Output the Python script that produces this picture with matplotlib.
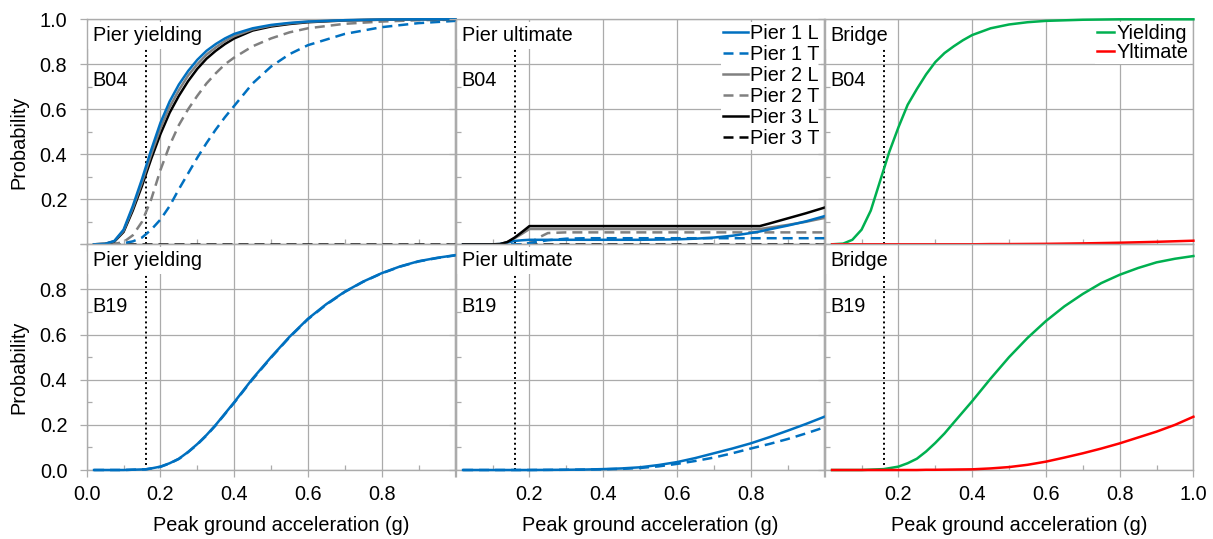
import matplotlib
matplotlib.use('Agg')
import matplotlib.pyplot as plt
from matplotlib.ticker import MultipleLocator, NullFormatter

plt.rcParams['font.family'] = ['Liberation Sans', 'DejaVu Sans']
FS = 14.3
plt.rcParams['font.size'] = FS

# ---------------- data ----------------
# B04 - pier yielding
x_b04_y = [0.02, 0.05, 0.075, 0.1, 0.125, 0.15, 0.175, 0.2, 0.225, 0.25, 0.275, 0.3, 0.325, 0.35, 0.375, 0.4,
           0.45, 0.5, 0.55, 0.6, 0.7, 0.8, 0.9, 1.0]
b04_y_p1l = [0, 0.002, 0.015, 0.065, 0.17, 0.29, 0.42, 0.54, 0.635, 0.71, 0.77, 0.82, 0.86, 0.89, 0.915, 0.935,
             0.96, 0.975, 0.984, 0.99, 0.996, 0.999, 1.0, 1.0]
b04_y_p1t = [0, 0, 0, 0.005, 0.013, 0.03, 0.065, 0.11, 0.17, 0.245, 0.315, 0.385, 0.45, 0.51, 0.565, 0.615,
             0.715, 0.79, 0.845, 0.885, 0.935, 0.965, 0.983, 0.993]
b04_y_p2l = [0, 0.002, 0.014, 0.06, 0.16, 0.275, 0.4, 0.515, 0.61, 0.685, 0.75, 0.8, 0.843, 0.875, 0.903, 0.925,
             0.955, 0.972, 0.982, 0.989, 0.996, 0.999, 1.0, 1.0]
b04_y_p2t = [0, 0, 0.002, 0.01, 0.04, 0.1, 0.2, 0.33, 0.44, 0.53, 0.6, 0.66, 0.715, 0.76, 0.8, 0.83,
             0.88, 0.915, 0.942, 0.96, 0.98, 0.99, 0.996, 0.998]
b04_y_p3l = [0, 0.002, 0.012, 0.055, 0.15, 0.26, 0.38, 0.49, 0.585, 0.66, 0.725, 0.78, 0.825, 0.86, 0.89, 0.915,
             0.95, 0.968, 0.979, 0.987, 0.995, 0.998, 1.0, 1.0]
b04_y_p3t = [0] * 24

# B04 - pier ultimate
x_b04_u = [0.02, 0.1, 0.12, 0.14, 0.16, 0.18, 0.2, 0.225, 0.25, 0.3, 0.35, 0.4, 0.5, 0.6, 0.65, 0.7, 0.75, 0.8,
           0.825, 0.85, 0.9, 0.95, 1.0]
b04_u_p1l = [0, 0, 0.001, 0.008, 0.015, 0.018, 0.02, 0.02, 0.02, 0.02, 0.02, 0.02, 0.02, 0.022, 0.025, 0.03,
             0.038, 0.05, 0.057, 0.066, 0.083, 0.102, 0.125]
b04_u_p1t = [0, 0, 0, 0, 0, 0, 0.005, 0.012, 0.018, 0.025, 0.027, 0.027, 0.027, 0.027, 0.027, 0.027, 0.027,
             0.027, 0.027, 0.027, 0.027, 0.027, 0.027]
b04_u_p2l = [0, 0, 0.001, 0.01, 0.027, 0.047, 0.068, 0.068, 0.068, 0.068, 0.068, 0.068, 0.068, 0.068, 0.068,
             0.068, 0.068, 0.068, 0.068, 0.074, 0.086, 0.1, 0.117]
b04_u_p2t = [0, 0, 0, 0, 0, 0, 0.005, 0.03, 0.05, 0.053, 0.053, 0.053, 0.053, 0.053, 0.053, 0.053, 0.053,
             0.053, 0.053, 0.053, 0.053, 0.053, 0.053]
b04_u_p3l = [0, 0, 0.001, 0.01, 0.03, 0.055, 0.081, 0.081, 0.081, 0.081, 0.081, 0.081, 0.081, 0.081, 0.081,
             0.081, 0.081, 0.081, 0.081, 0.092, 0.115, 0.138, 0.163]
b04_u_p3t = [0] * 23

# B04 - bridge
x_b04_b = x_b04_y
b04_b_yield = [0, 0.003, 0.02, 0.065, 0.15, 0.28, 0.41, 0.52, 0.62, 0.69, 0.755, 0.81, 0.85, 0.88, 0.907, 0.93,
               0.96, 0.977, 0.987, 0.993, 0.998, 1.0, 1.0, 1.0]
b04_b_ult = [0, 0, 0, 0, 0, 0, 0, 0, 0, 0, 0, 0, 0, 0, 0, 0,
             0.001, 0.001, 0.0015, 0.002, 0.004, 0.007, 0.011, 0.016]

# B19 - pier yielding
x_b19_y = [0.02, 0.1, 0.16, 0.175, 0.2, 0.225, 0.25, 0.275, 0.3, 0.325, 0.35, 0.4, 0.45, 0.5, 0.55, 0.6, 0.65,
           0.7, 0.75, 0.8, 0.85, 0.9, 0.95, 1.0]
b19_y_p1l = [0, 0, 0.003, 0.007, 0.015, 0.03, 0.05, 0.08, 0.115, 0.155, 0.2, 0.3, 0.405, 0.5, 0.59, 0.67, 0.735,
             0.79, 0.835, 0.872, 0.902, 0.925, 0.94, 0.952]
b19_y_p1t = [0, 0, 0.003, 0.007, 0.014, 0.029, 0.049, 0.079, 0.113, 0.153, 0.198, 0.298, 0.402, 0.498, 0.588,
             0.668, 0.733, 0.789, 0.834, 0.871, 0.901, 0.924, 0.939, 0.951]

# B19 - pier ultimate
x_b19_u = [0.02, 0.1, 0.2, 0.3, 0.35, 0.4, 0.45, 0.5, 0.55, 0.6, 0.65, 0.7, 0.75, 0.8, 0.85, 0.9, 0.95, 1.0]
b19_u_p1l = [0, 0, 0, 0.001, 0.002, 0.004, 0.007, 0.012, 0.022, 0.035, 0.053, 0.074, 0.095, 0.118, 0.145, 0.174,
             0.204, 0.236]
b19_u_p1t = [0, 0, 0, 0.001, 0.002, 0.003, 0.005, 0.009, 0.016, 0.027, 0.04, 0.055, 0.074, 0.095, 0.115, 0.137,
             0.162, 0.189]

# B19 - bridge
x_b19_b = x_b19_y
b19_b_yield = [0, 0, 0.004, 0.008, 0.015, 0.03, 0.05, 0.082, 0.12, 0.162, 0.21, 0.305, 0.405, 0.5, 0.585, 0.66,
               0.725, 0.78, 0.828, 0.865, 0.895, 0.92, 0.936, 0.948]
b19_b_ult = [0, 0, 0, 0, 0, 0, 0, 0.001, 0.001, 0.0015, 0.002, 0.003, 0.007, 0.013, 0.023, 0.037, 0.055, 0.074,
             0.095, 0.118, 0.144, 0.17, 0.2, 0.236]

threshold_pga = 0.16
threshold_top = 0.87

panel_titles = ["Pier yielding", "Pier ultimate", "Bridge"]
bridge_names = ["B04", "B19"]
pier_labels = ["Pier 1 L", "Pier 1 T", "Pier 2 L", "Pier 2 T", "Pier 3 L", "Pier 3 T"]
bridge_labels = ["Yielding", "Yltimate"]
x_ticks = [0.0, 0.2, 0.4, 0.6, 0.8, 1.0]
y_ticks = [0.0, 0.2, 0.4, 0.6, 0.8, 1.0]

# ---------------- styles ----------------
BLUE = '#0070C0'
GREY = '#808080'
BLACK = '#000000'
GREEN = '#00B050'
RED = '#FF0000'
GRID = '#ababab'
LW = 1.8
DASH = (4.0, 2.4)

pier_styles = [(BLUE, '-'), (BLUE, '--'), (GREY, '-'), (GREY, '--'), (BLACK, '-'), (BLACK, '--')]

W, H = 1213, 539
fig = plt.figure(figsize=(W / 100, H / 100), dpi=100)

left_px = [86.7, 455.7, 824.7]
pw = 368.7
rows_px = [(19.3, 244.3), (244.3, 470.0)]

axes = []
for r, (top, bot) in enumerate(rows_px):
    row = []
    for c in range(3):
        ax = fig.add_axes([left_px[c] / W, 1 - bot / H, pw / W, (bot - top) / H])
        row.append(ax)
    axes.append(row)


def style_axis(ax, r, c):
    ax.set_xlim(0, 1.0)
    ax.set_ylim(0, 1.0)
    ax.xaxis.set_minor_locator(MultipleLocator(0.1))
    ax.yaxis.set_minor_locator(MultipleLocator(0.1))
    ax.set_xticks(x_ticks)
    ax.set_yticks(y_ticks)
    ax.grid(True, which='major', color=GRID, lw=0.9, zorder=0)
    ax.set_axisbelow(True)
    for s in ax.spines.values():
        s.set_color(GRID)
        s.set_linewidth(1.0)
    ax.tick_params(which='major', direction='out', length=5, width=0.9, color=GRID, labelsize=FS)
    ax.tick_params(which='minor', direction='in', length=3.5, width=0.9, color=GRID)
    ax.tick_params(axis='y', pad=9)
    ax.tick_params(axis='x', pad=6)
    if r == 0:
        ax.xaxis.set_major_formatter(NullFormatter())
    else:
        if c == 0:
            shown = [0.0, 0.2, 0.4, 0.6, 0.8]
        elif c == 1:
            shown = [0.2, 0.4, 0.6, 0.8]
        else:
            shown = [0.2, 0.4, 0.6, 0.8, 1.0]
        ax.set_xticklabels([f"{v:.1f}" if v in shown else "" for v in x_ticks])
        ax.set_xlabel("Peak ground acceleration (g)", fontsize=FS)
        ax.xaxis.set_label_coords(0.527, -0.205)
    if c == 0:
        if r == 0:
            ax.set_yticklabels(["" if v == 0.0 else f"{v:.1f}" for v in y_ticks])
        else:
            ax.set_yticklabels(["" if v == 1.0 else f"{v:.1f}" for v in y_ticks])
        ax.set_ylabel("Probability", fontsize=FS)
        ax.yaxis.set_label_coords(-0.158, 0.455)
    else:
        ax.set_yticklabels([])
    ax.plot([threshold_pga, threshold_pga], [0, threshold_top], color='black', lw=1.4,
            linestyle=(0, (1, 1.6)), zorder=3, clip_on=False)
    ax.text(0.016, 0.927, panel_titles[c], ha='left', va='center', fontsize=FS, zorder=2,
            bbox=dict(facecolor='white', edgecolor='none', pad=3.0))
    ax.text(0.016, 0.726, bridge_names[r], ha='left', va='center', fontsize=FS, zorder=2)


for r in range(2):
    for c in range(3):
        style_axis(axes[r][c], r, c)


def pl(ax, x, y, color, ls, label=None):
    kw = dict(color=color, lw=LW, label=label, clip_on=False, zorder=4)
    ln, = ax.plot(x, y, linestyle=ls, **kw)
    if ls == '--':
        ln.set_dashes(DASH)
    return ln


# Row 0
ax = axes[0][0]
series = [b04_y_p1l, b04_y_p1t, b04_y_p2l, b04_y_p2t, b04_y_p3l, b04_y_p3t]
for i in [5, 1, 3, 4, 2, 0]:
    col, ls = pier_styles[i]
    pl(ax, x_b04_y, series[i], col, ls)

ax = axes[0][1]
series = [b04_u_p1l, b04_u_p1t, b04_u_p2l, b04_u_p2t, b04_u_p3l, b04_u_p3t]
handles = [None] * 6
for i in [5, 3, 1, 2, 0, 4]:
    col, ls = pier_styles[i]
    handles[i] = pl(ax, x_b04_u, series[i], col, ls, pier_labels[i])
leg = ax.legend(handles, pier_labels, loc='upper right', bbox_to_anchor=(1.0, 1.0),
                frameon=True, framealpha=1, edgecolor='none', facecolor='white',
                fontsize=FS, handlelength=1.25, handletextpad=0.1, labelspacing=0.1,
                borderpad=0.1, borderaxespad=0.15, fancybox=False)
leg.set_zorder(5)

ax = axes[0][2]
h1 = pl(ax, x_b04_b, b04_b_yield, GREEN, '-', bridge_labels[0])
h2 = pl(ax, x_b04_b, b04_b_ult, RED, '-', bridge_labels[1])
leg = ax.legend([h1, h2], bridge_labels, loc='upper right', bbox_to_anchor=(1.0, 1.0),
                frameon=True, framealpha=1, edgecolor='none', facecolor='white',
                fontsize=FS, handlelength=0.9, handletextpad=0.1, labelspacing=0.0,
                borderpad=0.1, borderaxespad=0.15, fancybox=False)
leg.set_zorder(5)

# Row 1
ax = axes[1][0]
pl(ax, x_b19_y, b19_y_p1l, BLUE, '-')
pl(ax, x_b19_y, b19_y_p1t, BLUE, '--')

ax = axes[1][1]
pl(ax, x_b19_u, b19_u_p1l, BLUE, '-')
pl(ax, x_b19_u, b19_u_p1t, BLUE, '--')

ax = axes[1][2]
pl(ax, x_b19_b, b19_b_yield, GREEN, '-')
pl(ax, x_b19_b, b19_b_ult, RED, '-')

fig.savefig('out.png', dpi=100)
